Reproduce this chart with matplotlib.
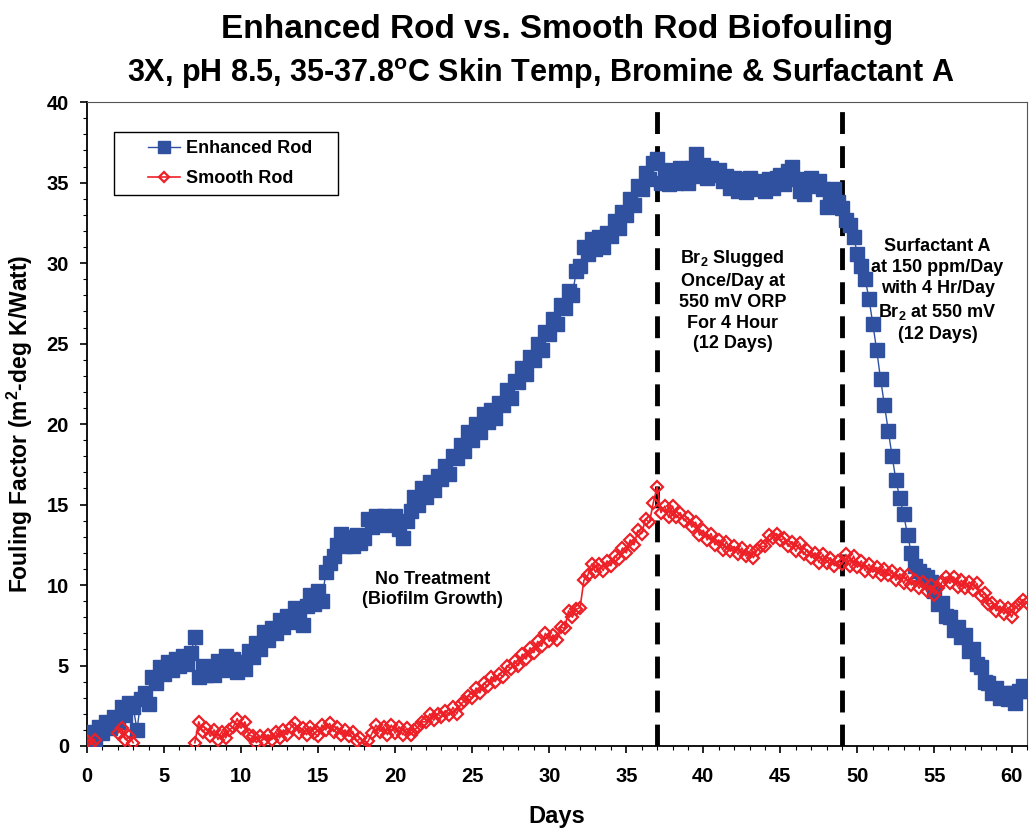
import numpy as np
import matplotlib
matplotlib.use("Agg")
from matplotlib import pyplot as plt
from matplotlib.ticker import MultipleLocator
from matplotlib.patches import Rectangle

plt.rcParams['font.family'] = ['Liberation Sans', 'DejaVu Sans']
plt.rcParams['font.weight'] = 'bold'
plt.rcParams['mathtext.fontset'] = 'custom'
plt.rcParams['mathtext.rm'] = 'Liberation Sans:bold'
plt.rcParams['mathtext.default'] = 'rm'

nan = np.nan

# sample grid: 4 readings per day, day 0 .. 61
days = np.arange(0, 61.01, 0.25)

# Enhanced rod fouling factor, one row per day
enhanced = [
    0.3, 0.9, 0.4, 1.2,
    0.8, 1.5, 1.1, 1.8,
    1.5, 2.4, 1.9, 2.7,
    2.4, 1.0, 2.9, 3.3,
    2.6, 4.3, 3.9, 4.9,
    4.5, 5.2, 4.7, 5.4,
    5.0, 5.6, 5.1, 5.8,
    6.8, 4.3, 5.0, 4.4,
    4.8, 4.4, 5.3, 4.7,
    5.6, 4.9, 5.4, 4.6,
    5.2, 4.8, 5.9, 5.5,
    6.4, 6.0, 7.1, 6.6,
    7.3, 7.0, 7.8, 7.4,
    8.1, 7.7, 8.6, 8.2,
    7.5, 8.7, 9.4, 8.8,
    9.6, 9.0, 10.8, 11.4,
    11.8, 12.5, 13.2, 12.4,
    13.0, 12.4, 13.1, 12.6,
    12.9, 14.1, 13.6, 14.3,
    13.8, 14.3, 13.7, 14.2,
    14.3, 13.5, 12.9, 14.0,
    14.6, 15.5, 15.0, 16.0,
    15.5, 16.4, 15.9, 16.8,
    16.6, 17.4, 16.9, 18.0,
    17.9, 18.7, 18.3, 19.5,
    19.0, 20.0, 19.5, 20.6,
    20.1, 20.9, 20.4, 21.3,
    21.2, 22.1, 21.6, 22.7,
    22.6, 23.5, 23.1, 24.2,
    24.0, 25.0, 24.6, 25.7,
    25.6, 26.5, 26.2, 27.4,
    27.2, 28.3, 28.0, 29.5,
    29.8, 31.0, 30.6, 31.5,
    30.9, 31.6, 31.0, 31.9,
    31.7, 32.6, 32.2, 33.2,
    33.0, 34.0, 33.6, 34.8,
    34.6, 35.6, 35.2, 36.2,
    36.5, 35.0, 35.8, 34.9,
    35.6, 35.0, 35.9, 35.2,
    35.0, 35.9, 36.8, 35.4,
    36.1, 35.3, 35.9, 35.5,
    35.8, 35.1, 35.4, 34.7,
    35.3, 34.5, 35.2, 34.4,
    35.3, 34.6, 35.1, 34.8,
    34.5, 35.2, 34.7, 35.3,
    35.5, 34.9, 35.7, 36.0,
    35.2, 34.5, 34.3, 35.1,
    35.3, 34.8, 35.1, 34.6,
    33.5, 34.3, 34.6, 33.8,
    33.4, 32.7, 32.4, 31.6,
    30.6, 29.8, 29.0, 27.8,
    26.2, 24.6, 22.8, 21.2,
    19.6, 18.0, 16.5, 15.4,
    14.4, 13.1, 12.0, 11.2,
    10.9, 10.6, 10.5, 10.2,
    9.6, 8.8, 8.9, 8.1,
    8.0, 7.2, 7.4, 6.8,
    6.9, 5.9, 6.0, 5.1,
    4.9, 4.0, 3.9, 3.3,
    3.6, 3.0, 3.3, 2.9,
    3.3, 2.7, 3.4, 3.7,
    3.4,
]

# Smooth rod fouling factor, one row per day (nan = no reading)
smooth = [
    0.3, 0.1, 0.4, nan,
    nan, nan, nan, nan,
    0.8, 1.1, 0.4, 0.6,
    0.2, nan, nan, nan,
    nan, nan, nan, nan,
    nan, nan, nan, nan,
    nan, nan, nan, nan,
    0.2, 1.5, 0.9, 1.1,
    0.6, 1.0, 0.4, 0.9,
    0.5, 1.0, 1.2, 1.7,
    1.1, 1.5, 0.7, 0.6,
    0.2, 0.6, 0.4, 0.7,
    0.4, 0.9, 0.5, 1.0,
    0.7, 1.2, 1.4, 0.8,
    1.1, 0.7, 1.2, 0.8,
    0.6, 1.3, 1.0, 1.4,
    0.9, 1.2, 0.7, 1.0,
    0.6, 0.9, 0.3, 0.5,
    0.0, 0.3, 0.8, 1.3,
    0.9, 1.2, 0.7, 1.3,
    0.8, 1.2, 0.7, 1.1,
    0.7, 1.0, 1.2, 1.5,
    1.5, 2.0, 1.6, 2.0,
    1.8, 2.2, 1.9, 2.4,
    2.0, 2.6, 2.8, 3.1,
    3.0, 3.6, 3.3, 3.9,
    3.7, 4.3, 4.0, 4.5,
    4.3, 5.0, 4.8, 5.3,
    5.0, 5.7, 5.4, 6.1,
    5.8, 6.5, 6.2, 7.0,
    6.5, 6.9, 6.6, 7.4,
    7.3, 8.4, 8.0, 8.5,
    8.6, 10.3, 10.6, 11.3,
    10.8, 11.3, 10.9, 11.5,
    11.2, 11.8, 11.6, 12.3,
    12.0, 12.8, 12.5, 13.4,
    13.2, 14.1, 13.9, 15.1,
    16.1, 14.5, 14.9, 14.2,
    14.9, 14.2, 14.5, 14.0,
    14.2, 13.6, 13.9, 13.1,
    13.4, 12.8, 13.2, 12.5,
    12.8, 12.2, 12.7, 12.1,
    12.4, 11.9, 12.3, 11.8,
    12.1, 11.7, 12.2, 12.4,
    12.4, 13.1, 12.9, 13.2,
    12.8, 12.9, 12.4, 12.7,
    12.1, 12.6, 11.9, 12.2,
    11.7, 12.0, 11.4, 11.9,
    11.4, 11.7, 11.2, 11.5,
    11.3, 11.9, 11.2, 11.8,
    11.1, 11.5, 10.9, 11.3,
    10.8, 11.1, 10.6, 11.0,
    10.6, 10.9, 10.3, 10.7,
    10.1, 10.6, 10.0, 10.3,
    9.8, 10.2, 9.6, 10.0,
    9.4, 9.8, 10.2, 10.5,
    10.1, 10.5, 9.9, 10.3,
    9.8, 10.2, 9.7, 10.1,
    9.3, 9.5, 8.8, 8.9,
    8.4, 8.7, 8.2, 8.6,
    8.0, 8.6, 8.8, 9.1,
    8.9,
]

treatment_days = [37, 49]

blue = '#3050A0'
red = '#ED2027'

fig = plt.figure(figsize=(10.29, 8.31), dpi=100)
ax = fig.add_axes([0.0845, 0.1023, 0.9135, 0.7747])

ax.plot(days, enhanced, color=blue, lw=1, marker='s', ms=10, mfc=blue, mec=blue,
        label='Enhanced Rod', zorder=3)
ax.plot(days, smooth, color=red, lw=1.2, marker='D', ms=6.5, mfc='none', mec=red,
        mew=1.6, label='Smooth Rod', zorder=4)

for d in treatment_days:
    ax.axvline(d, color='black', lw=3.5, dashes=(4.5, 2.5), zorder=2)

ax.set_xlim(0, 61)
ax.set_ylim(0, 40)
ax.xaxis.set_major_locator(MultipleLocator(5))
ax.xaxis.set_minor_locator(MultipleLocator(1))
ax.yaxis.set_major_locator(MultipleLocator(5))
ax.yaxis.set_minor_locator(MultipleLocator(1))
ax.tick_params(which='major', direction='out', length=5, width=1.2, labelsize=14.5)
ax.tick_params(axis='x', which='major', pad=10)
ax.tick_params(axis='y', which='major', pad=8)
ax.tick_params(which='minor', direction='out', length=3, width=0.8)
for lab in ax.get_xticklabels() + ax.get_yticklabels():
    lab.set_fontweight('bold')
for s in ['left', 'bottom']:
    ax.spines[s].set_linewidth(1.3)
for s in ['top', 'right']:
    ax.spines[s].set_linewidth(0.8)
    ax.spines[s].set_color('#555555')

ax.set_xlabel('Days', fontsize=17, fontweight='bold', labelpad=14)
ax.set_ylabel('Fouling Factor (m$^2$-deg K/Watt)', fontsize=16.5, fontweight='bold', labelpad=8)

fig.text(0.541, 0.965, 'Enhanced Rod vs. Smooth Rod Biofouling', ha='center', va='center',
         fontsize=24, fontweight='bold')
fig.text(0.525, 0.911, '3X, pH 8.5, 35-37.8$^{o}$C Skin Temp, Bromine & Surfactant A',
         ha='center', va='center', fontsize=22, fontweight='bold')

ax.text(22.4, 9.7, 'No Treatment\n(Biofilm Growth)', ha='center', va='center',
        fontsize=13, fontweight='bold', linespacing=1.25)
ax.text(41.9, 27.7, 'Br$_2$ Slugged\nOnce/Day at\n550 mV ORP\nFor 4 Hour\n(12 Days)',
        ha='center', va='center', fontsize=13, fontweight='bold', linespacing=1.3)
ax.text(55.2, 28.3, 'Surfactant A\nat 150 ppm/Day\nwith 4 Hr/Day\nBr$_2$ at 550 mV\n(12 Days)',
        ha='center', va='center', fontsize=13, fontweight='bold', linespacing=1.3)

# legend frame drawn separately so the padding matches the original box
ax.add_patch(Rectangle((0.0287, 0.8556), 0.2383, 0.0978, transform=ax.transAxes,
                       facecolor='white', edgecolor='black', lw=1, zorder=5))
leg = ax.legend(loc='center left', bbox_to_anchor=(0.0649, 0.9045), frameon=False,
                prop={'weight': 'bold', 'size': 13}, handlelength=1.8, handletextpad=0.3,
                borderpad=0, labelspacing=0.75, borderaxespad=0, markerscale=0.8)
leg.set_zorder(6)

fig.savefig('out.png', dpi=100)
